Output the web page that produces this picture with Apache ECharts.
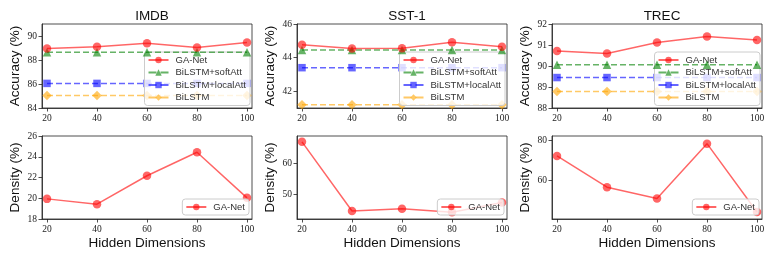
<!DOCTYPE html>
<html><head><meta charset="utf-8">
<script src="https://cdn.jsdelivr.net/npm/echarts@6/dist/echarts.min.js"></script>
<style>html,body{margin:0;padding:0;background:#fff}#c{width:775px;height:259px}</style>
</head><body><div id="c"></div>
<script>
// ---- data ----
var dims = [20, 40, 60, 80, 100];
var datasets = ['IMDB', 'SST-1', 'TREC'];
var seriesNames = ['GA-Net', 'BiLSTM+softAtt', 'BiLSTM+localAtt', 'BiLSTM'];
var xTicks = [20, 40, 60, 80, 100];

var imdbGA    = [88.95, 89.1, 89.4, 89.05, 89.45];
var imdbSoft  = [88.65, 88.65, 88.65, 88.65, 88.65];
var imdbLocal = [86.05, 86.05, 86.05, 86.05, 86.05];
var imdbBi    = [85.05, 85.05, 85.05, 85.05, 85.05];

var sstGA     = [44.76, 44.54, 44.56, 44.92, 44.64];
var sstSoft   = [44.45, 44.45, 44.45, 44.45, 44.45];
var sstLocal  = [43.4, 43.4, 43.4, 43.4, 43.4];
var sstBi     = [41.2, 41.2, 41.2, 41.2, 41.2];

var trecGA    = [90.71, 90.6, 91.12, 91.4, 91.24];
var trecSoft  = [90.06, 90.06, 90.06, 90.06, 90.06];
var trecLocal = [89.45, 89.45, 89.45, 89.45, 89.45];
var trecBi    = [88.78, 88.78, 88.78, 88.78, 88.78];

var imdbDen = [19.94, 19.43, 22.17, 24.43, 20.04];
var sstDen  = [67.0, 44.5, 45.2, 44.1, 47.3];
var trecDen = [72.1, 56.6, 51.0, 78.2, 44.3];

var accTicks = [[84, 86, 88, 90], [42, 44, 46], [88, 89, 90, 91, 92]];
var accRange = [[84, 91], [41, 46], [88, 92]];
var denTicks = [[18, 20, 22, 24, 26], [50, 60], [60, 80]];
var denRange = [[18, 26], [41.9, 68.9], [40.8, 82]];

var accData = [[imdbGA, imdbSoft, imdbLocal, imdbBi], [sstGA, sstSoft, sstLocal, sstBi], [trecGA, trecSoft, trecLocal, trecBi]];
var denData = [imdbDen, sstDen, trecDen];

// ---- styles ----
var colors = ['rgba(255,0,0,0.6)', 'rgba(0,128,0,0.6)', 'rgba(0,0,255,0.6)', 'rgba(255,165,0,0.6)'];
var symbols = ['circle', 'triangle', 'rect', 'diamond'];
var symSizes = [8.5, 8.5, 7.5, 9.5];
var dashes = ['solid', 'dashed', 'dashed', 'dashed'];
var serif = 'Liberation Serif';
var sans = 'Liberation Sans';

var lefts = [42, 297, 552];
var gw = 210;
var topT = 24, topH = 84;
var botT = 136, botH = 83;

var grids = [], xAxes = [], yAxes = [], series = [], legends = [], titles = [];

function pairs(arr) { return arr.map(function (v, i) { return [dims[i], v]; }); }

function addGrid(idx, left, top, h, yr, yt, yname, showXName) {
  grids.push({left: left, top: top, width: gw, height: h, show: true, borderColor: '#222', borderWidth: 0.8, backgroundColor: 'transparent'});
  xAxes.push({
    type: 'value', gridIndex: idx, min: 18, max: 102,
    axisLine: {show: true, lineStyle: {color: '#222', width: 0.8}},
    axisTick: {show: true, length: 3.5, customValues: xTicks, lineStyle: {color: '#222', width: 0.8}},
    axisLabel: {customValues: xTicks, fontFamily: serif, fontSize: 9.5, color: '#222', margin: 5},
    splitLine: {show: false},
    name: showXName ? 'Hidden Dimensions' : '', nameLocation: 'middle', nameGap: 17,
    nameTextStyle: {fontFamily: sans, fontSize: 13.5, color: '#111'}
  });
  yAxes.push({
    type: 'value', gridIndex: idx, min: yr[0], max: yr[1],
    axisLine: {show: true, lineStyle: {color: '#222', width: 0.8}},
    axisTick: {show: true, length: 3.5, customValues: yt, lineStyle: {color: '#222', width: 0.8}},
    axisLabel: {customValues: yt, fontFamily: serif, fontSize: 9.5, color: '#222', margin: 5},
    splitLine: {show: false},
    name: yname, nameLocation: 'middle', nameGap: 20,
    nameTextStyle: {fontFamily: sans, fontSize: 13.5, color: '#111'}
  });
}

function legendBox(right, top, names) {
  return {
    orient: 'vertical', right: right, top: top, data: names,
    itemWidth: 20, itemHeight: 8, itemGap: 2.5,
    padding: [3, 4, 3, 3],
    backgroundColor: 'rgba(255,255,255,0.8)', borderColor: '#ccc', borderWidth: 1, borderRadius: 3,
    textStyle: {fontFamily: sans, fontSize: 9.5, color: '#333', padding: [0, 0, 0, 2]}
  };
}

for (var d = 0; d < 3; d++) {
  var gi = d;
  addGrid(gi, lefts[d], topT, topH, accRange[d], accTicks[d], 'Accuracy (%)', false);
  for (var s = 0; s < 4; s++) {
    series.push({
      type: 'line', name: seriesNames[s], xAxisIndex: gi, yAxisIndex: gi,
      data: pairs(accData[d][s]), symbol: symbols[s], symbolSize: symSizes[s],
      lineStyle: {color: colors[s], width: 1.5, type: dashes[s]},
      itemStyle: {color: colors[s], borderWidth: 0},
      emphasis: {disabled: true}, animation: false, z: 5 - s
    });
  }
  legends.push(legendBox(775 - (lefts[d] + gw) + 2, 52, seriesNames));
  titles.push({text: datasets[d], left: lefts[d] + gw / 2, top: 4, textAlign: 'center',
    textStyle: {fontFamily: sans, fontSize: 13.5, fontWeight: 'normal', color: '#111'}});
}
for (var d2 = 0; d2 < 3; d2++) {
  var gj = 3 + d2;
  addGrid(gj, lefts[d2], botT, botH, denRange[d2], denTicks[d2], 'Density (%)', true);
  series.push({
    type: 'line', name: seriesNames[0], xAxisIndex: gj, yAxisIndex: gj,
    data: pairs(denData[d2]), symbol: symbols[0], symbolSize: symSizes[0],
    lineStyle: {color: colors[0], width: 1.5, type: 'solid'},
    itemStyle: {color: colors[0], borderWidth: 0},
    emphasis: {disabled: true}, animation: false
  });
  legends.push(legendBox(775 - (lefts[d2] + gw) + 3, 199, [seriesNames[0]]));
}

var chart = echarts.init(document.getElementById('c'), null, {renderer: 'canvas'});
chart.setOption({
  animation: false,
  title: titles,
  grid: grids, xAxis: xAxes, yAxis: yAxes, series: series, legend: legends
});
</script></body></html>
